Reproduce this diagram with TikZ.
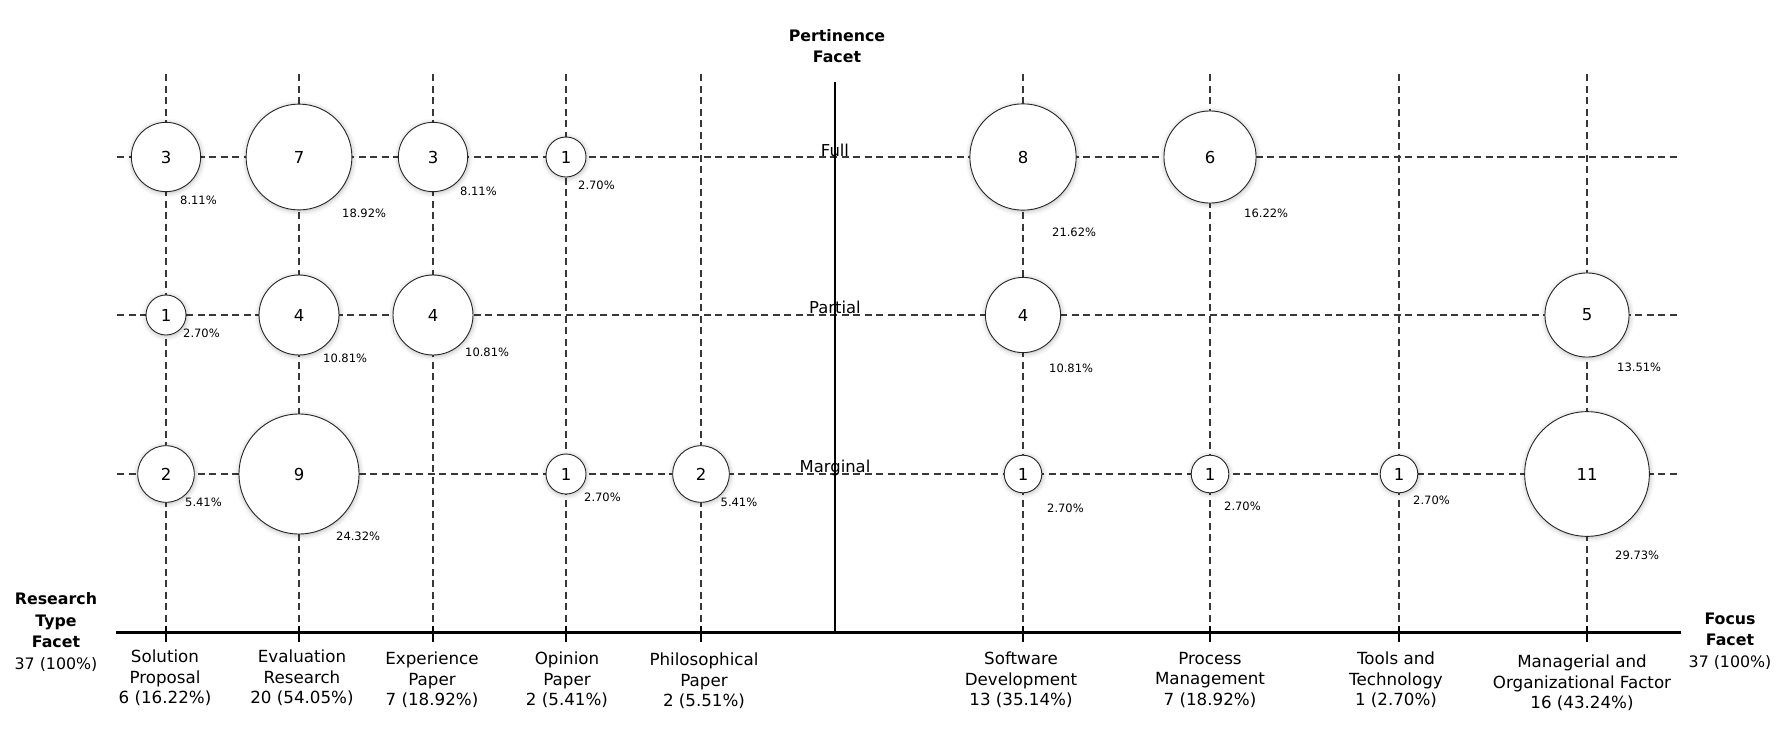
\documentclass[tikz,border=0pt]{standalone}
\usepackage{fontspec}
\setmainfont{DejaVu Sans}
\usetikzlibrary{shadows.blur}
\begin{document}
\begin{tikzpicture}[x=1pt,y=-1pt,
  grid/.style={draw=black!78, line width=1.2pt, dash pattern=on 7pt off 4.5pt},
  mainaxis/.style={draw=black, line width=2.7pt},
  vaxis/.style={draw=black, line width=2pt},
  tickmark/.style={draw=black, line width=2.5pt},
  bubble/.style={circle, draw=black!85, line width=0.9pt, fill=white, inner sep=0pt,
    minimum size=#1, font=\fontsize{16.5}{18}\selectfont,
    blur shadow={shadow xshift=0.5pt, shadow yshift=-1pt, shadow blur radius=5pt, shadow opacity=30}},
  pct/.style={anchor=west, inner sep=0pt, font=\fontsize{11.5}{14}\selectfont},
  rowlab/.style={anchor=base, inner sep=0pt, font=\fontsize{16.4}{20}\selectfont},
  collab/.style={align=center, inner sep=0pt, font=\fontsize{16.7}{20.7}\selectfont},
  facet/.style={align=center, inner sep=0pt, font=\fontsize{15.8}{21.5}\selectfont}
]
\useasboundingbox (0,0) rectangle (1783,736);

% horizontal dashed grid lines
\foreach \n/\y in {F/157,P/315,M/474}{
  \coordinate (h\n l) at (117,\y);
  \coordinate (h\n r) at (1681,\y);
  \draw[grid] (h\n l) -- (h\n r);
}
% vertical dashed grid lines
\foreach \n/\x in {A/166,B/299,C/433,D/566,E/701,F/1023,G/1210,H/1399,I/1587}{
  \coordinate (v\n t) at (\x,74);
  \coordinate (v\n b) at (\x,632);
  \draw[grid] (v\n t) -- (v\n b);
  \draw[tickmark] (\x,626) -- (\x,642);
}

% axes
\coordinate (axL) at (116,632.5);
\coordinate (axR) at (1681,632.5);
\draw[mainaxis] (axL) -- (axR);
\coordinate (vaxT) at (835,82);
\coordinate (vaxB) at (835,632);
\draw[vaxis] (vaxT) -- (vaxB);

% row labels
\node[rowlab] (lfull) at (835,156) {Full};
\node[rowlab] (lpartial) at (835,313.5) {Partial};
\node[rowlab] (lmarginal) at (835,472.5) {Marginal};

% bubbles: left (research type)
\node[bubble=69.3pt] (bAF) at (166,157) {3};
\node[bubble=105.8pt] (bBF) at (299,157) {7};
\node[bubble=69.3pt] (bCF) at (433,157) {3};
\node[bubble=40pt] (bDF) at (566,157) {1};
\node[bubble=40pt] (bAP) at (166,315) {1};
\node[bubble=80pt] (bBP) at (299,315) {4};
\node[bubble=80pt] (bCP) at (433,315) {4};
\node[bubble=56.6pt] (bAM) at (166,474) {2};
\node[bubble=120pt] (bBM) at (299,474) {9};
\node[bubble=40pt] (bDM) at (566,474) {1};
\node[bubble=56.6pt] (bEM) at (701,474) {2};
% bubbles: right (focus)
\node[bubble=106.3pt] (bFF) at (1023,157) {8};
\node[bubble=92.1pt] (bGF) at (1210,157) {6};
\node[bubble=75.2pt] (bFP) at (1023,315) {4};
\node[bubble=84.1pt] (bIP) at (1587,315) {5};
\node[bubble=37.6pt] (bFM) at (1023,474) {1};
\node[bubble=37.6pt] (bGM) at (1210,474) {1};
\node[bubble=37.6pt] (bHM) at (1399,474) {1};
\node[bubble=124.7pt] (bIM) at (1587,474) {11};

% percentages
\node[pct] (pAF) at (180,200) {8.11\%};
\node[pct] (pBF) at (342,213) {18.92\%};
\node[pct] (pCF) at (460,191) {8.11\%};
\node[pct] (pDF) at (578,185) {2.70\%};
\node[pct] (pAP) at (183,333) {2.70\%};
\node[pct] (pBP) at (323,358) {10.81\%};
\node[pct] (pCP) at (465,352) {10.81\%};
\node[pct] (pAM) at (185,502) {5.41\%};
\node[pct] (pBM) at (336,536) {24.32\%};
\node[pct] (pDM) at (584,497) {2.70\%};
\node[pct] (pEM) at (720.5,502) {5.41\%};
\node[pct] (pFF) at (1052,232) {21.62\%};
\node[pct] (pGF) at (1244,213) {16.22\%};
\node[pct] (pFP) at (1049,368) {10.81\%};
\node[pct] (pIP) at (1617,367) {13.51\%};
\node[pct] (pFM) at (1047,508) {2.70\%};
\node[pct] (pGM) at (1224,506) {2.70\%};
\node[pct] (pHM) at (1413,500) {2.70\%};
\node[pct] (pIM) at (1615,555) {29.73\%};

% facet titles
\node[facet] (tpert) at (837,46) {\bfseries Pertinence\\\bfseries Facet};
\node[facet] (tres) at (56,632) {\bfseries Research\\\bfseries Type\\\bfseries Facet\\37 (100\%)};
\node[facet] (tfoc) at (1730,641) {\bfseries Focus\\\bfseries Facet\\37 (100\%)};

% column labels
\node[collab] (cA) at (165,678) {Solution\\Proposal\\6 (16.22\%)};
\node[collab] (cB) at (302,678) {Evaluation\\Research\\20 (54.05\%)};
\node[collab] (cC) at (432,680) {Experience\\Paper\\7 (18.92\%)};
\node[collab] (cD) at (567,680) {Opinion\\Paper\\2 (5.41\%)};
\node[collab] (cE) at (704,681) {Philosophical\\Paper\\2 (5.51\%)};
\node[collab] (cF) at (1021,680) {Software\\Development\\13 (35.14\%)};
\node[collab] (cG) at (1210,680) {Process\\Management\\7 (18.92\%)};
\node[collab] (cH) at (1396,680) {Tools and\\Technology\\1 (2.70\%)};
\node[collab] (cI) at (1582,683) {Managerial and\\Organizational Factor\\16 (43.24\%)};
\end{tikzpicture}
\end{document}
